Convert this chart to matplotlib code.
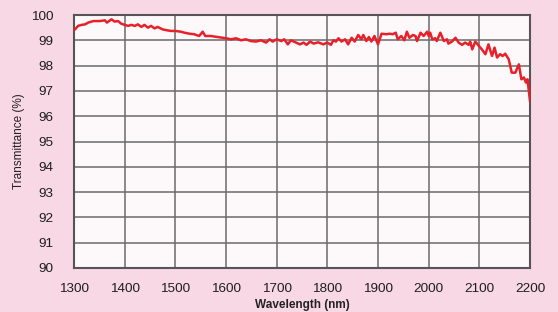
import matplotlib.pyplot as plt

# wavelength (nm) and transmittance (%)
wavelength = [
    1300, 1302, 1308, 1315, 1322, 1328, 1338, 1351, 1361, 1365, 1374, 1380, 1387, 1393,
    1400, 1407, 1413, 1420, 1426, 1433, 1439, 1446, 1452, 1459, 1465, 1475, 1485, 1492,
    1500, 1511, 1518, 1528, 1537, 1547, 1554, 1559, 1570, 1584, 1600, 1610, 1620, 1630,
    1639, 1649, 1659, 1669, 1679, 1686, 1692, 1700, 1709, 1715, 1722, 1728, 1738, 1746,
    1753, 1759, 1766, 1773, 1782, 1792, 1800, 1807, 1812, 1817, 1822, 1828, 1835, 1841,
    1848, 1854, 1861, 1867, 1871, 1877, 1882, 1887, 1893, 1900, 1907, 1916, 1923, 1929,
    1935, 1939, 1946, 1952, 1957, 1962, 1969, 1974, 1977, 1984, 1990, 1997, 2000, 2003,
    2007, 2013, 2016, 2023, 2030, 2036, 2039, 2046, 2053, 2059, 2066, 2072, 2079, 2082,
    2086, 2092, 2099, 2105, 2112, 2118, 2125, 2130, 2135, 2141, 2146, 2151, 2158, 2164,
    2171, 2178, 2183, 2188, 2192, 2195, 2199, 2200,
]
transmittance = [
    99.40, 99.43, 99.57, 99.61, 99.63, 99.70, 99.76, 99.76, 99.79, 99.70, 99.83, 99.74, 99.76, 99.66,
    99.61, 99.57, 99.61, 99.57, 99.63, 99.53, 99.61, 99.50, 99.57, 99.47, 99.53, 99.43, 99.39, 99.37,
    99.37, 99.34, 99.30, 99.26, 99.24, 99.17, 99.34, 99.17, 99.17, 99.13, 99.08, 99.04, 99.08, 99.00,
    99.04, 98.97, 98.95, 99.00, 98.91, 99.04, 98.95, 99.04, 98.97, 99.04, 98.84, 99.00, 98.91, 98.84,
    98.91, 98.82, 98.95, 98.87, 98.92, 98.84, 98.91, 98.82, 99.00, 98.95, 99.08, 98.95, 99.04, 98.84,
    99.10, 98.95, 99.21, 99.04, 99.21, 98.97, 99.13, 98.95, 99.17, 98.84, 99.26, 99.24, 99.26, 99.24,
    99.30, 99.04, 99.17, 99.00, 99.34, 99.10, 99.21, 99.17, 98.97, 99.30, 99.17, 99.34, 99.17, 99.30,
    99.04, 99.08, 98.97, 99.30, 98.97, 99.04, 98.87, 98.95, 99.10, 98.91, 98.82, 98.91, 98.82, 98.95,
    98.64, 98.95, 98.78, 98.64, 98.45, 98.84, 98.38, 98.71, 98.32, 98.45, 98.38, 98.47, 98.25, 97.72,
    97.72, 98.05, 97.46, 97.53, 97.33, 97.46, 96.80, 96.60,
]
x_ticks = [1300, 1400, 1500, 1600, 1700, 1800, 1900, 2000, 2100, 2200]
y_ticks = [90, 91, 92, 93, 94, 95, 96, 97, 98, 99, 100]

plt.rcParams["font.family"] = ["Liberation Sans", "DejaVu Sans"]

fig = plt.figure(figsize=(5.58, 3.12), dpi=100, facecolor="#f9d8e5")
ax = fig.add_axes([74 / 558, 1 - 268 / 312, 456 / 558, 253 / 312])
ax.set_facecolor("#fdf8fa")

ax.plot(wavelength, transmittance, color="#e8202a", linewidth=1.8, zorder=3)

ax.set_xlim(1300, 2200)
ax.set_ylim(90, 100)
ax.set_xticks(x_ticks)
ax.set_yticks(y_ticks)
ax.grid(True, color="#6a6a6a", linewidth=1.1)
ax.tick_params(axis="both", length=0, labelsize=9.7, colors="#1e1e1e")
ax.tick_params(axis="x", pad=11)
ax.tick_params(axis="y", pad=15)
for s in ax.spines.values():
    s.set_color("#555555")
    s.set_linewidth(1.5)

ax.set_xlabel("Wavelength (nm)", fontsize=8.5, fontweight="bold", color="#222222", labelpad=3)
ax.set_ylabel("Transmittance (%)", fontsize=8.5, color="#222222", labelpad=4)

fig.savefig("out.png", dpi=100, facecolor=fig.get_facecolor())
